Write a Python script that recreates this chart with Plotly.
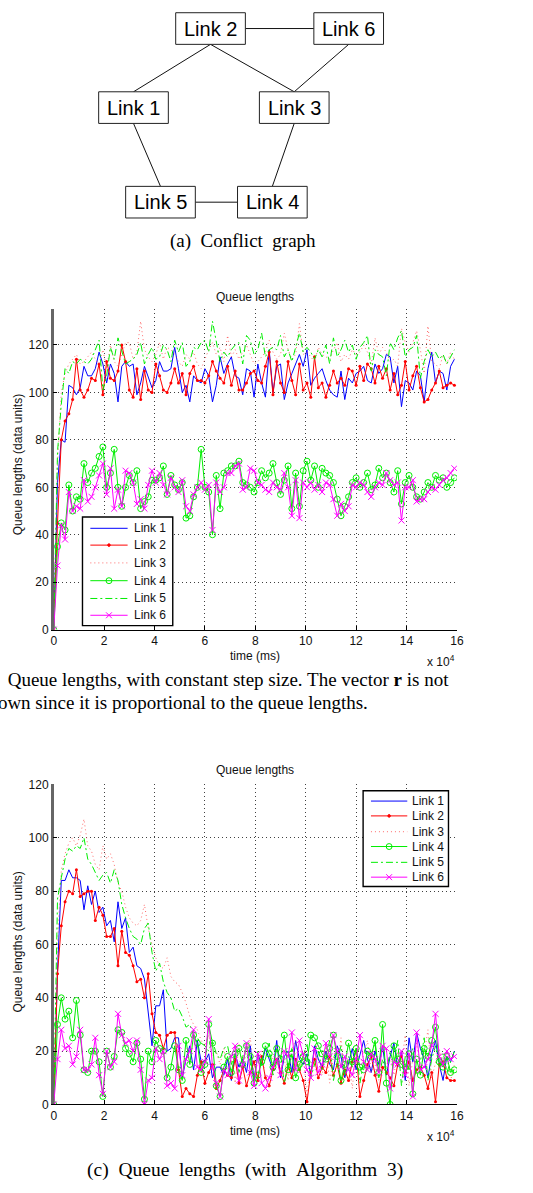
import plotly.graph_objects as go

W, H = 533, 1193


def px(x):
    return x / W


def py(y):
    return 1 - y / H


# ---------------- data ----------------
STEP_MS = 1500
x_tick_vals = [0, 20000, 40000, 60000, 80000, 100000, 120000, 140000, 160000]
x_tick_text = ["0", "2", "4", "6", "8", "10", "12", "14", "16"]
y_tick_vals = [0, 20, 40, 60, 80, 100, 120]
series_names = ["Link 1", "Link 2", "Link 3", "Link 4", "Link 5", "Link 6"]

# (b) constant step size
b_link1 = [0, 62, 80, 79, 103, 102, 99, 102, 111, 107,
           107, 110, 117, 112, 104, 112, 108, 96, 111, 113,
           111, 112, 99, 104, 111, 106, 102, 105, 113, 109,
           109, 110, 119, 110, 100, 103, 96, 107, 105, 104,
           110, 107, 96, 103, 115, 108, 112, 115, 107, 106,
           99, 110, 109, 98, 112, 104, 98, 118, 100, 111,
           112, 97, 104, 108, 112, 116, 111, 118, 103, 106,
           108, 110, 105, 101, 99, 98, 109, 97, 106, 104,
           108, 109, 111, 105, 104, 112, 108, 110, 116, 115,
           104, 111, 94, 105, 104, 101, 109, 107, 96, 110,
           117, 104, 109, 108, 101, 111, 114]
b_link2 = [0, 45, 80, 88, 91, 97, 114, 101, 98, 101,
           106, 105, 112, 99, 113, 106, 105, 109, 120, 113,
           101, 98, 110, 97, 109, 101, 100, 112, 107, 101,
           100, 104, 110, 104, 108, 99, 108, 111, 105, 105,
           104, 107, 113, 109, 106, 104, 111, 103, 109, 101,
           101, 104, 108, 109, 105, 104, 111, 117, 99, 113,
           104, 100, 113, 105, 99, 112, 101, 104, 98, 115,
           102, 104, 98, 103, 109, 104, 106, 103, 110, 109,
           103, 111, 105, 112, 110, 104, 111, 106, 110, 101,
           108, 99, 103, 113, 101, 107, 111, 102, 96, 97,
           101, 104, 109, 102, 103, 104, 103]
b_link3 = [0, 70, 100, 108, 112, 114, 116, 112, 113, 115,
           117, 114, 112, 118, 110, 120, 113, 111, 116, 121,
           121, 114, 117, 130, 118, 115, 113, 116, 121, 114,
           119, 118, 116, 113, 111, 116, 114, 117, 112, 110,
           114, 118, 121, 116, 119, 113, 124, 115, 118, 114,
           117, 120, 116, 112, 113, 115, 117, 122, 117, 114,
           116, 125, 118, 114, 116, 129, 116, 117, 115, 113,
           119, 116, 115, 114, 118, 121, 113, 116, 114, 118,
           116, 117, 120, 117, 112, 123, 116, 119, 117, 113,
           114, 111, 127, 121, 117, 121, 126, 118, 108, 128,
           113, 112, 110, 116, 112, 117, 114]
b_link4 = [0, 35, 45, 42, 61, 50, 56, 55, 70, 62,
           66, 68, 73, 77, 60, 66, 76, 60, 52, 60,
           65, 62, 67, 51, 54, 56, 63, 63, 64, 69,
           57, 65, 61, 59, 62, 47, 48, 56, 60, 76,
           60, 58, 40, 65, 51, 66, 67, 69, 69, 71,
           62, 61, 60, 58, 62, 67, 64, 66, 70, 62,
           57, 63, 69, 51, 66, 52, 67, 71, 63, 69,
           60, 68, 66, 65, 62, 55, 48, 52, 56, 62,
           64, 60, 62, 66, 59, 61, 68, 64, 66, 62,
           58, 67, 53, 62, 65, 60, 56, 55, 58, 62,
           60, 65, 63, 64, 60, 62, 64]
b_link5 = [0, 75, 95, 110, 108, 113, 112, 114, 113, 112,
           114, 118, 122, 101, 107, 119, 114, 123, 118, 112,
           113, 114, 116, 121, 112, 116, 119, 114, 115, 120,
           118, 113, 122, 117, 121, 111, 113, 119, 118, 121,
           122, 117, 130, 121, 113, 117, 115, 118, 120, 121,
           112, 124, 122, 116, 118, 125, 115, 118, 119, 118,
           124, 115, 118, 113, 119, 125, 117, 119, 117, 114,
           118, 115, 120, 112, 123, 115, 118, 122, 117, 120,
           114, 119, 121, 124, 109, 118, 116, 115, 107, 121,
           118, 123, 126, 115, 118, 119, 124, 106, 113, 118,
           115, 117, 114, 116, 112, 115, 118]
b_link6 = [0, 27, 44, 38, 58, 50, 52, 51, 63, 54,
           56, 60, 65, 70, 57, 68, 51, 59, 52, 67,
           66, 62, 53, 55, 51, 61, 67, 62, 66, 61,
           57, 64, 60, 58, 63, 52, 50, 57, 60, 62,
           59, 61, 42, 62, 58, 60, 66, 66, 69, 70,
           59, 60, 68, 67, 62, 61, 59, 58, 62, 60,
           59, 66, 60, 48, 63, 47, 62, 60, 62, 59,
           61, 58, 62, 61, 55, 48, 53, 50, 52, 61,
           60, 62, 61, 58, 56, 60, 62, 61, 66, 63,
           61, 62, 46, 60, 60, 63, 54, 55, 55, 58,
           60, 59, 61, 63, 64, 66, 68]

# (c) with Algorithm 3
c_link1 = [0, 50, 84, 84, 88, 85, 85, 84, 73, 82,
           75, 80, 72, 74, 67, 69, 61, 76, 66, 70,
           57, 59, 52, 51, 47, 35, 22, 37, 37, 43,
           20, 21, 25, 25, 10, 17, 22, 13, 24, 16,
           16, 19, 10, 14, 14, 11, 17, 9, 19, 14,
           17, 12, 22, 9, 19, 15, 21, 17, 13, 24,
           10, 18, 20, 12, 24, 17, 15, 19, 11, 22,
           17, 14, 20, 15, 13, 22, 18, 10, 16, 21,
           13, 19, 24, 17, 12, 20, 15, 22, 11, 18,
           23, 14, 20, 9, 25, 16, 27, 21, 17, 10,
           19, 24, 15, 9, 18, 16, 20]
c_link2 = [0, 49, 67, 76, 80, 79, 88, 78, 79, 80,
           80, 69, 74, 71, 63, 63, 66, 52, 65, 57,
           56, 52, 46, 47, 40, 49, 34, 27, 26, 21,
           26, 27, 27, 13, 3, 6, 4, 3, 11, 16,
           8, 12, 15, 6, 9, 13, 11, 10, 17, 8,
           14, 7, 12, 16, 9, 18, 10, 7, 13, 17,
           12, 8, 15, 10, 17, 13, 9, 1, 12, 17,
           10, 14, 12, 18, 11, 15, 8, 13, 9, 16,
           20, 3, 9, 15, 18, 11, 5, 14, 12, 10,
           7, 15, 18, 12, 16, 9, 13, 14, 11, 6,
           12, 1, 15, 16, 10, 9, 9]
c_link3 = [0, 60, 88, 94, 98, 100, 97, 101, 107, 97,
           95, 90, 88, 97, 92, 94, 90, 83, 80, 74,
           70, 68, 67, 69, 75, 66, 60, 55, 52, 51,
           55, 48, 46, 45, 42, 38, 33, 30, 28, 24,
           22, 26, 18, 20, 15, 21, 12, 17, 8, 23,
           14, 19, 25, 11, 16, 20, 10, 6, 18, 22,
           13, 17, 9, 21, 24, 12, 19, 3, 15, 20,
           16, 11, 22, 8, 18, 14, 25, 10, 17, 6,
           21, 13, 19, 24, 12, 16, 9, 22, 14, 18,
           11, 20, 15, 26, 7, 17, 23, 13, 19, 28,
           10, 16, 21, 14, 18, 9, 15]
c_link4 = [0, 30, 40, 32, 35, 25, 39, 26, 13, 12,
           20, 20, 16, 3, 20, 14, 18, 28, 27, 21,
           19, 16, 23, 17, 2, 20, 16, 24, 21, 20,
           10, 14, 22, 13, 9, 24, 15, 26, 23, 12,
           15, 30, 23, 7, 3, 14, 18, 12, 19, 21,
           15, 22, 18, 8, 11, 16, 22, 19, 14, 21,
           17, 26, 13, 19, 10, 15, 18, 16, 26, 25,
           22, 19, 17, 21, 26, 18, 9, 15, 23, 16,
           21, 14, 13, 20, 18, 24, 12, 30, 8, 0,
           22, 17, 15, 14, 19, 4, 17, 11, 21, 18,
           24, 29, 16, 14, 18, 12, 13]
c_link5 = [0, 77, 85, 92, 96, 95, 97, 96, 100, 92,
           90, 87, 84, 86, 87, 83, 88, 84, 75, 70,
           66, 63, 62, 60, 66, 68, 57, 50, 53, 46,
           42, 40, 35, 36, 33, 29, 30, 26, 25, 23,
           22, 20, 24, 19, 17, 21, 22, 15, 19, 12,
           18, 22, 16, 9, 20, 14, 17, 23, 11, 16,
           19, 8, 14, 21, 17, 12, 18, 23, 10, 15,
           20, 13, 17, 24, 9, 16, 22, 11, 18, 14,
           21, 8, 16, 13, 19, 23, 10, 17, 12, 20,
           15, 24, 7, 18, 13, 21, 11, 16, 25, 9,
           17, 22, 14, 19, 12, 16, 20]
c_link6 = [0, 17, 28, 21, 22, 15, 18, 28, 13, 13,
           15, 25, 11, 4, 20, 14, 16, 34, 26, 23,
           24, 20, 24, 13, 0, 9, 10, 21, 17, 20,
           7, 8, 6, 22, 11, 17, 20, 28, 14, 13,
           16, 32, 14, 8, 3, 13, 11, 18, 22, 9,
           15, 23, 12, 7, 19, 8, 6, 10, 14, 17,
           11, 20, 18, 27, 13, 24, 19, 13, 10, 21,
           12, 15, 23, 18, 26, 20, 14, 18, 13, 11,
           17, 26, 16, 13, 19, 17, 12, 22, 21, 6,
           16, 15, 20, 11, 19, 3, 27, 13, 14, 17,
           22, 34, 18, 15, 20, 17, 18]

b_series = [b_link1, b_link2, b_link3, b_link4, b_link5, b_link6]
c_series = [c_link1, c_link2, c_link3, c_link4, c_link5, c_link6]

# conflict graph
graph_nodes = ["Link 1", "Link 2", "Link 3", "Link 4", "Link 5", "Link 6"]
graph_edges = [("Link 2", "Link 6"), ("Link 2", "Link 1"), ("Link 2", "Link 3"),
               ("Link 6", "Link 3"), ("Link 1", "Link 5"), ("Link 3", "Link 4"),
               ("Link 5", "Link 4")]

# ---------------- layout constants (pixels) ----------------
node_pos = {"Link 1": (133, 101.8), "Link 2": (211.5, 21.8), "Link 3": (296.8, 101.8),
            "Link 4": (274.5, 197.5), "Link 5": (160.5, 197.5), "Link 6": (352.3, 21.8)}
BOX_W, BOX_H = 71, 32

PLOT_L, PLOT_R = 51.7, 462.6
B_TOP, B_BOT = 306, 630
C_TOP, C_BOT = 786.7, 1110.5

SANS = "Liberation Sans, Arial, Helvetica, sans-serif"
SERIF = "Liberation Serif, Times New Roman, serif"

GREEN = "#00ee00"
styles = [
    dict(color="#0000ff", dash="solid", marker=None),
    dict(color="#ff0000", dash="solid", marker="dot"),
    dict(color="rgba(255,60,60,0.75)", dash="1px,3px", marker=None),
    dict(color=GREEN, dash="solid", marker="circle-open"),
    dict(color=GREEN, dash="7px,3px,2px,3px", marker=None),
    dict(color="#ff00ff", dash="solid", marker="x-thin-open"),
]


def trace_kwargs(st):
    kw = dict(line=dict(color=st["color"], width=1, dash=st["dash"]))
    if st["marker"] is None:
        kw["mode"] = "lines"
    elif st["marker"] == "dot":
        kw["mode"] = "lines+markers"
        kw["marker"] = dict(symbol="circle", size=3, color=st["color"])
    else:
        kw["mode"] = "lines+markers"
        kw["marker"] = dict(symbol=st["marker"], size=6, color=st["color"],
                            line=dict(width=1, color=st["color"]))
    return kw


fig = go.Figure()

for series, xa, ya in [(b_series, "x", "y"), (c_series, "x2", "y2")]:
    for name, ys, st in zip(series_names, series, styles):
        xs = [i * STEP_MS for i in range(len(ys))]
        fig.add_trace(go.Scatter(x=xs, y=ys, name=name, xaxis=xa, yaxis=ya,
                                 showlegend=False, hoverinfo="skip", **trace_kwargs(st)))

axis_common = dict(
    showgrid=True, griddash="1px,3px", gridcolor="rgba(0,0,0,0.75)", gridwidth=1,
    zeroline=False, ticks="inside", ticklen=4, tickcolor="#000",
    tickfont=dict(family=SANS, size=12, color="#111"), mirror=False,
)

fig.update_layout(
    width=W, height=H, margin=dict(l=0, r=0, t=0, b=0),
    paper_bgcolor="white", plot_bgcolor="white", showlegend=False,
    xaxis=dict(domain=[px(PLOT_L), px(PLOT_R)], range=[0, 160000], anchor="y",
               tickvals=x_tick_vals, ticktext=x_tick_text,
               showline=True, linecolor="#000", linewidth=1, **axis_common),
    yaxis=dict(domain=[py(B_BOT), py(B_TOP)], range=[0, 135], anchor="x",
               tickvals=y_tick_vals,
               showline=True, linecolor="#666", linewidth=2.5, **axis_common),
    xaxis2=dict(domain=[px(PLOT_L), px(PLOT_R)], range=[0, 160000], anchor="y2",
                tickvals=x_tick_vals, ticktext=x_tick_text,
                showline=True, linecolor="#000", linewidth=1, **axis_common),
    yaxis2=dict(domain=[py(C_BOT), py(C_TOP)], range=[0, 120], anchor="x2",
                tickvals=y_tick_vals,
                showline=True, linecolor="#666", linewidth=2.5, **axis_common),
)

ann = []
shapes = []


def text(x, y, t, size, family=SANS, xanchor="center", angle=0, color="#111"):
    ann.append(dict(x=px(x), y=py(y), xref="paper", yref="paper", text=t,
                    showarrow=False, xanchor=xanchor, yanchor="middle",
                    textangle=angle, font=dict(family=family, size=size, color=color)))


def pline(x0, y0, x1, y1, color, width=1, dash="solid"):
    shapes.append(dict(type="line", xref="paper", yref="paper",
                       x0=px(x0), y0=py(y0), x1=px(x1), y1=py(y1),
                       line=dict(color=color, width=width, dash=dash)))


mid = (PLOT_L + PLOT_R) / 2
# chart (b)
text(mid, 293, "Queue lengths", 12)
text(mid, 657, "time (ms)", 12)
text(463, 662, "x 10<sup>4</sup>", 12, xanchor="right")
text(15, 463, "Queue lengths (data units)", 12, angle=-90)
# chart (c)
text(mid, 772, "Queue lengths", 12)
text(mid, 1137, "time (ms)", 12)
text(463, 1142, "x 10<sup>4</sup>", 12, xanchor="right")
text(15, 946, "Queue lengths (data units)", 12, angle=-90)

# captions
WS = " \u00a0"
text(168, 237, WS.join(["(a)", "Conflict", "graph"]), 19, family=SERIF, xanchor="left", color="#000")
text(-30, 681, "(b)" + WS + "Queue lengths, with constant step size. The vector <b>r</b> is not", 19,
     family=SERIF, xanchor="left", color="#000")
text(-24, 704, "shown since it is proportional to the queue lengths.", 19,
     family=SERIF, xanchor="left", color="#000")
text(84, 1177, WS.join(["(c)", "Queue", "lengths", "(with", "Algorithm", "3)"]), 19.5,
     family=SERIF, xanchor="left", color="#000")


# manual legends (box, sample lines, markers, labels)
def draw_legend(box, row0, row_step, line_x0, line_x1, text_x):
    x0, y0, x1, y1 = box
    shapes.append(dict(type="rect", xref="paper", yref="paper",
                       x0=px(x0), x1=px(x1), y0=py(y1), y1=py(y0),
                       line=dict(color="#000", width=1.4), fillcolor="white"))
    mx = (line_x0 + line_x1) / 2
    for k, (name, st) in enumerate(zip(series_names, styles)):
        yy = round(row0 + k * row_step) + 0.5
        pline(line_x0, yy, line_x1, yy, st["color"], 1, st["dash"])
        if st["marker"] == "dot":
            r = 1.3
            shapes.append(dict(type="circle", xref="paper", yref="paper",
                               x0=px(mx - r), x1=px(mx + r), y0=py(yy + r), y1=py(yy - r),
                               line=dict(color=st["color"], width=1), fillcolor=st["color"]))
        elif st["marker"] == "circle-open":
            r = 3
            shapes.append(dict(type="circle", xref="paper", yref="paper",
                               x0=px(mx - r), x1=px(mx + r), y0=py(yy + r), y1=py(yy - r),
                               line=dict(color=st["color"], width=1)))
        elif st["marker"] == "x-thin-open":
            r = 3
            pline(mx - r, yy - r, mx + r, yy + r, st["color"])
            pline(mx - r, yy + r, mx + r, yy - r, st["color"])
        text(text_x, yy, name, 12, xanchor="left")


draw_legend((81, 516, 173, 626), 526.7, 17.7, 89, 127, 131)
draw_legend((367, 793, 454, 890), 802.7, 15.47, 375, 412, 415)

# conflict graph nodes & edges


def anchor_pt(a, b):
    (ax, ay), (bx, by) = node_pos[a], node_pos[b]
    if abs(ay - by) < 1:
        sx = ax + BOX_W / 2 if bx > ax else ax - BOX_W / 2
        return sx, ay
    sy = ay + BOX_H / 2 if by > ay else ay - BOX_H / 2
    return ax, sy


for a, b in graph_edges:
    x0, y0 = anchor_pt(a, b)
    x1, y1 = anchor_pt(b, a)
    pline(x0, y0, x1, y1, "#111")

for n in graph_nodes:
    cx, cy = node_pos[n]
    shapes.append(dict(type="rect", xref="paper", yref="paper",
                       x0=px(cx - BOX_W / 2), x1=px(cx + BOX_W / 2),
                       y0=py(cy - BOX_H / 2), y1=py(cy + BOX_H / 2),
                       line=dict(color="#222", width=1), fillcolor="white"))
    text(cx, cy, n, 20, color="#000")

# legend shapes must sit above the data traces
for s in shapes:
    s["layer"] = "above"

fig.update_layout(annotations=ann, shapes=shapes)

fig.write_html("out.html", config={"displayModeBar": False})
